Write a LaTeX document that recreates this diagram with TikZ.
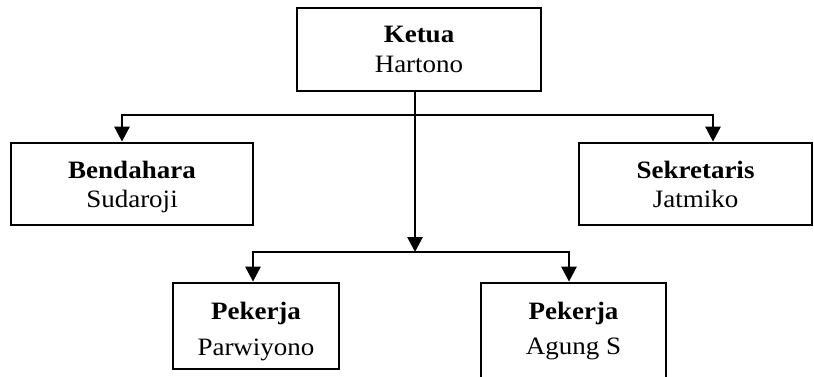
\documentclass[tikz,border=0pt]{standalone}
\usepackage{fontspec}
\setmainfont{Liberation Serif}[FakeStretch=1.08]
\usetikzlibrary{arrows.meta, positioning}
\tikzset{
	box/.style={draw, line width=2.75, align=center, inner sep=0pt, font=\fontsize{25}{30}\selectfont},
	arrowline/.style={-{Triangle[length=15, width=15]}, line width=2.75}
}
\newcommand{\lift}[1]{\rule{0pt}{#1pt}}

\begin{document}
\begin{tikzpicture}[x=1pt, y=-1pt]
		\useasboundingbox (0,0) rectangle (814,376);
		
		\node[box, minimum width=244, minimum height=83] (ketua) at (419, 49.5) {\textbf{Ketua}\\Hartono};
		
		\node[box, minimum width=242, minimum height=82] (bendahara) at (132, 184) {\lift{23}\textbf{Bendahara}\\[-1pt]Sudaroji};
		\node[box, minimum width=233, minimum height=82] (sekretaris) at (695.5, 184) {\lift{18.3}\textbf{Sekretaris}\\[-1.5pt]Jatmiko};
		
		\node[box, minimum width=166, minimum height=86] (pekerja1) at (256, 326) {\lift{28}\textbf{Pekerja}\\[6.5pt]Parwiyono};
		\node[box, minimum width=185, minimum height=96] (pekerja2) at (573.5, 331) {\textbf{Pekerja}\\[5.5pt]Agung S};
		
		\coordinate (topbar) at (415, 115);
		\coordinate (lowbar) at (415, 252);
		
		\draw[arrowline] ([xshift=-4]ketua.south) -- (lowbar);
		
		\draw[arrowline] (topbar) -| ([xshift=-10]bendahara.north);
		\draw[arrowline] (topbar) -| ([xshift=17.5]sekretaris.north);
		
		\draw[arrowline] (lowbar) -| ([xshift=-3]pekerja1.north);
		\draw[arrowline] (lowbar) -| ([xshift=-4.5]pekerja2.north);
	\end{tikzpicture}
\end{document}
